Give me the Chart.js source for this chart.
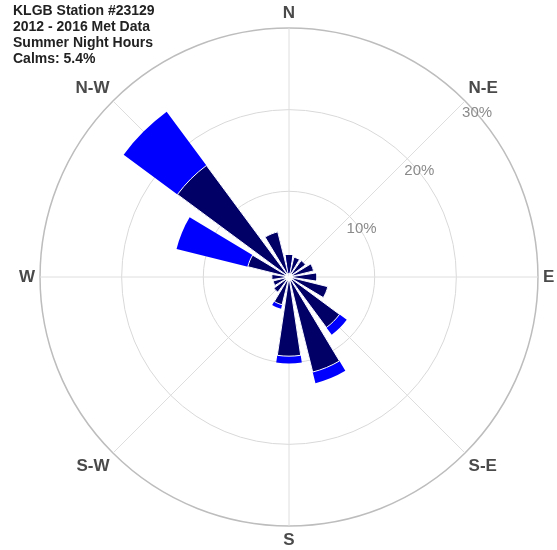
<!DOCTYPE html>
<html>
<head>
<meta charset="utf-8">
<title>KLGB wind rose</title>
<script src="https://cdn.jsdelivr.net/npm/chart.js"></script>
<style>
  html, body { margin: 0; padding: 0; background: #fff; }
  #wrap { position: relative; width: 557px; height: 550px; }
  #info {
    position: absolute; left: 13px; top: 2px;
    font: bold 14px/16px "Liberation Sans", Arial, sans-serif;
    color: #222;
  }
</style>
</head>
<body>
<div id="wrap">
  <canvas id="windRose"></canvas>
  <div id="info">KLGB Station #23129<br>2012 - 2016 Met Data<br>Summer Night Hours<br>Calms: 5.4%</div>
</div>
<script>
// 16 sectors, clockwise from north, values in % of hours
var directions = ["N", "NNE", "NE", "ENE", "E", "ESE", "SE", "SSE", "S", "SSW", "SW", "WSW", "W", "WNW", "NW", "NNW"];
var lowSpeed  = [2.2, 2.0, 2.0, 2.6, 2.9, 4.4, 7.2, 11.5, 9.2, 3.0, 1.8, 1.5, 1.6, 4.7, 16.5, 5.2];
var highSpeed = [0, 0, 0, 0, 0, 0, 1.1, 1.4, 0.9, 0.5, 0, 0, 0, 9.0, 8.2, 0];
var axisLabels = ["N", "N-E", "E", "S-E", "S", "S-W", "W", "N-W"];
var ringValues = [10, 20, 30];

Chart.defaults.font.family = '"Liberation Sans", Arial, sans-serif';

var WEDGE = 17;              // degrees covered by a bar
var GAP = 22.5 - WEDGE;      // white space between bars

// the north bar is split in two halves so the rose can start at 0 deg
// (keeps the angle lines on N, N-E, E ...)
function spread(values, fill) {
  var out = [values[0]];
  for (var i = 1; i < values.length; i++) {
    out.push(fill);
    out.push(values[i]);
  }
  out.push(fill);
  out.push(values[0]);
  return out;
}
var arcAngles = [WEDGE / 2];
for (var i = 1; i < directions.length; i++) arcAngles.push(GAP, WEDGE);
arcAngles.push(GAP, WEDGE / 2);

var totals = lowSpeed.map(function (v, i) { return v + highSpeed[i]; });
var lastIdx = arcAngles.length - 1;

var ringLabels = {
  id: 'ringLabels',
  afterDatasetsDraw: function (chart) {
    var s = chart.scales.r;
    var ctx = chart.ctx;
    ctx.save();
    ctx.font = '15px "Liberation Sans", Arial, sans-serif';
    ctx.fillStyle = '#8a8a8a';
    ctx.textAlign = 'left';
    ctx.textBaseline = 'middle';
    ringValues.forEach(function (v) {
      var p = s.getPointPositionForValue(1, v);
      ctx.fillText(v + '%', p.x - 3, p.y + 12);
    });
    ctx.restore();
  }
};

new Chart(document.getElementById('windRose'), {
  type: 'polarArea',
  data: {
    labels: spread(directions, ''),
    datasets: [
      {
        label: 'Calms',
        data: spread(directions.map(function () { return 0; }), 0),
        backgroundColor: '#ffffff',
        borderWidth: 0,
        angle: function (c) { return arcAngles[c.dataIndex]; }
      },
      {
        label: 'Low speed',
        data: spread(lowSpeed, null),
        backgroundColor: '#000066',
        borderColor: '#ffffff',
        borderWidth: function (c) { return (c.dataIndex === 0 || c.dataIndex === lastIdx) ? 0 : 1; },
        angle: function (c) { return arcAngles[c.dataIndex]; }
      },
      {
        label: 'High speed',
        data: spread(totals, null),
        backgroundColor: '#0000ff',
        borderWidth: 0,
        angle: function (c) { return arcAngles[c.dataIndex]; }
      }
    ]
  },
  options: {
    responsive: true,
    maintainAspectRatio: false,
    animation: false,
    layout: { padding: { left: 17, top: 4, right: 0, bottom: 0 } },
    plugins: {
      legend: { display: false },
      tooltip: { enabled: false }
    },
    scales: {
      r: {
        min: -0.5,
        max: 30,
        startAngle: 0,
        labels: axisLabels,
        ticks: { display: false, stepSize: 10 },
        grid: {
          circular: true,
          color: function (c) { return c.tick && c.tick.value >= 30 ? '#bdbdbd' : '#d9d9d9'; },
          lineWidth: function (c) {
            if (!c.tick || c.tick.value <= 0) return 0;
            return c.tick.value >= 30 ? 1.5 : 1;
          }
        },
        angleLines: { display: true, color: '#dedede', lineWidth: 1 },
        pointLabels: {
          display: true,
          padding: 5,
          color: '#4a4a4a',
          font: { size: 17, weight: 'bold', lineHeight: 1.12 }
        }
      }
    }
  },
  plugins: [ringLabels]
});
</script>
</body>
</html>
